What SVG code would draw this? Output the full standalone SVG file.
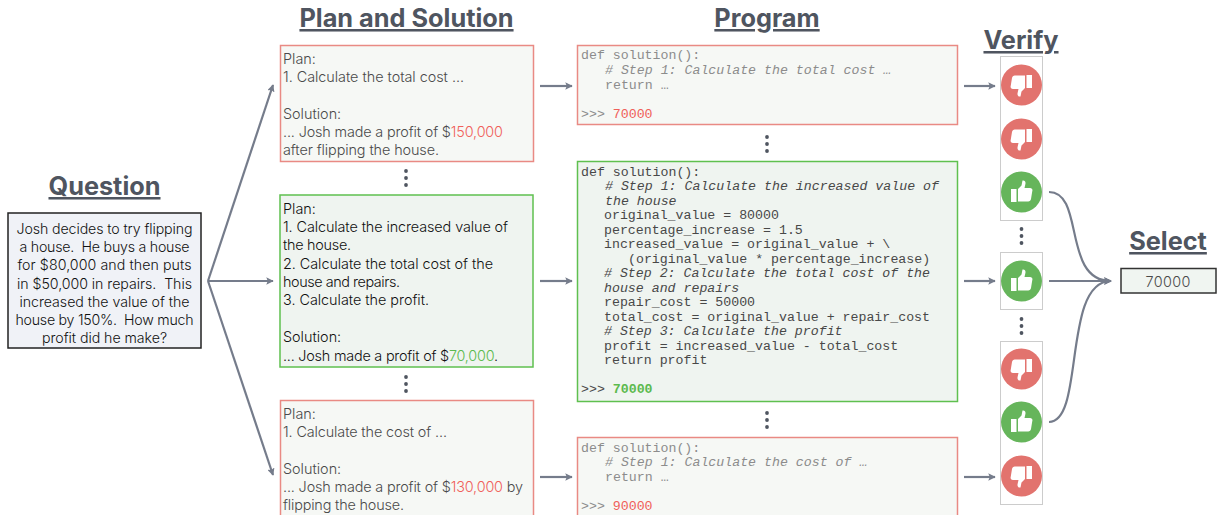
<svg xmlns="http://www.w3.org/2000/svg" width="1217" height="515" viewBox="0 0 1217 515">
<style>
.h{font-family:"Inter","Liberation Sans",sans-serif;font-weight:700;font-size:25.3px;fill:#4f5560;text-anchor:middle;text-decoration:underline}
.t{font-family:"Inter","Liberation Sans",sans-serif;font-weight:300;font-size:14.4px;fill:#4a4a4a}
.td{fill:#111}
.q{font-family:"Inter","Liberation Sans",sans-serif;font-weight:300;font-size:14.2px;fill:#111;text-anchor:middle;white-space:pre}
.m{font-family:"Liberation Mono",monospace;font-size:13.25px;fill:#8c8c8c}
.md{fill:#484848}
.i{font-style:italic}
.box{stroke-width:1.5}
.bad{fill:#f6f8f5;stroke:#e98a84}
.good{fill:#eff4f0;stroke:#5fc04f}
.red{fill:#f0605a}
.grn{fill:#5cba4e}
.con{fill:none;stroke:#757c8b;stroke-width:2.2}
.vb{fill:#fff;stroke:#ccc;stroke-width:1}
.dot{fill:#4f5560}
</style>
<defs>
<marker id="a" viewBox="0 0 10 10" refX="9" refY="5" markerWidth="7.500" markerHeight="7.500" orient="auto" markerUnits="userSpaceOnUse"><path d="M0 0L10 5L0 10L2 5Z" fill="#757c8b"/></marker>
<g id="up"><circle r="20.500" fill="#66b55b"/><path fill="#fff" d="M-10.500-3h5.500v13h-5.500zM-3.500-3l3.500-3.500l1-5c2.500-.5 3.500 1.500 2.800 4l-.8 3.500h5.500c2 0 2.800 1.500 2.300 3l-1.300 8c-.3 1.500-1.300 2.500-2.800 2.500h-10.200z"/></g>
<g id="down"><circle r="20.500" fill="#e2736e"/><path fill="#fff" d="M10.500 3h-5.500v-13h5.500zM3.500 3l-3.500 3.500l-1 5c-2.500.5-3.500-1.500-2.800-4l.8-3.500h-5.500c-2 0-2.800-1.500-2.300-3l1.300-8c.3-1.500 1.300-2.500 2.800-2.500h10.200z"/></g>
<g id="dots"><circle cy="-7" r="1.900" class="dot"/><circle r="1.900" class="dot"/><circle cy="7" r="1.900" class="dot"/></g>
</defs>

<g id="connectors">
<path class="con" d="M208 281L273 85" marker-end="url(#a)"/>
<path class="con" d="M208 281H273" marker-end="url(#a)"/>
<path class="con" d="M208 281L273 475" marker-end="url(#a)"/>
<path class="con" d="M540 86H572" marker-end="url(#a)"/>
<path class="con" d="M540 281H572" marker-end="url(#a)"/>
<path class="con" d="M540 477H572" marker-end="url(#a)"/>
<path class="con" d="M964 86H995" marker-end="url(#a)"/>
<path class="con" d="M964 281H995" marker-end="url(#a)"/>
<path class="con" d="M964 477H995" marker-end="url(#a)"/>
<path class="con" d="M1049 192C1085 192 1062 281 1111 281" marker-end="url(#a)"/>
<path class="con" d="M1049 281H1111" marker-end="url(#a)"/>
<path class="con" d="M1049 422C1085 422 1062 281 1111 281" marker-end="url(#a)"/>
</g>

<g id="question">
<text class="h" x="104.500" y="195">Question</text>
<rect x="8" y="213" width="193" height="135" fill="#f0f2f7" stroke="#222" stroke-width="1.500"/>
<text class="q" x="104.500" y="234" textLength="176">Josh decides to try flipping</text>
<text class="q" x="104.500" y="252" textLength="170">a house.  He buys a house</text>
<text class="q" x="104.500" y="270" textLength="174">for $80,000 and then puts</text>
<text class="q" x="104.500" y="289" textLength="175">in $50,000 in repairs.  This</text>
<text class="q" x="104.500" y="307" textLength="170">increased the value of the</text>
<text class="q" x="104.500" y="325" textLength="178">house by 150%.  How much</text>
<text class="q" x="104.500" y="343" textLength="125">profit did he make?</text>
</g>

<g id="plan-header"><text class="h" x="406.500" y="27">Plan and Solution</text></g>
<g id="program-header"><text class="h" x="767" y="27">Program</text></g>
<g id="verify-header"><text class="h" x="1021" y="49">Verify</text></g>
<g id="select-header"><text class="h" x="1168" y="250">Select</text></g>

<g id="plan-1">
<rect class="box bad" x="280.500" y="45.500" width="253" height="116"/>
<text class="t" x="283" y="64">Plan:</text>
<text class="t" x="283" y="82" textLength="181">1. Calculate the total cost ...</text>
<text class="t" x="283" y="119">Solution:</text>
<text class="t" x="283" y="137" textLength="220">... Josh made a profit of $<tspan class="red">150,000</tspan></text>
<text class="t" x="283" y="155" textLength="156">after flipping the house.</text>
</g>
<g id="dots-plan-1"><use href="#dots" x="406" y="178"/></g>
<g id="plan-2">
<rect class="box good" x="280" y="195" width="253" height="172"/>
<text class="t td" x="283" y="214">Plan:</text>
<text class="t td" x="283" y="232" textLength="225">1. Calculate the increased value of</text>
<text class="t td" x="283" y="250" textLength="68">the house.</text>
<text class="t td" x="283" y="269" textLength="210">2. Calculate the total cost of the</text>
<text class="t td" x="283" y="287" textLength="117">house and repairs.</text>
<text class="t td" x="283" y="305" textLength="146">3. Calculate the profit.</text>
<text class="t td" x="283" y="342">Solution:</text>
<text class="t td" x="283" y="361" textLength="215">... Josh made a profit of $<tspan class="grn">70,000</tspan>.</text>
</g>
<g id="dots-plan-2"><use href="#dots" x="406" y="384"/></g>
<g id="plan-3">
<rect class="box bad" x="280.500" y="400.500" width="253" height="118"/>
<text class="t" x="283" y="419">Plan:</text>
<text class="t" x="283" y="437" textLength="164">1. Calculate the cost of ...</text>
<text class="t" x="283" y="474">Solution:</text>
<text class="t" x="283" y="492" textLength="240">... Josh made a profit of $<tspan class="red">130,000</tspan> by</text>
<text class="t" x="283" y="510" textLength="121">flipping the house.</text>
</g>

<g id="program-1">
<rect class="box bad" x="577.500" y="45.500" width="380" height="79"/>
<text class="m" x="581" y="59">def solution():</text>
<text class="m i" x="605" y="74"># Step 1: Calculate the total cost …</text>
<text class="m" x="605" y="89">return …</text>
<text class="m" x="581" y="118">&gt;&gt;&gt; <tspan class="red">70000</tspan></text>
</g>
<g id="dots-program-1"><use href="#dots" x="767" y="144"/></g>
<g id="program-2">
<rect class="box good" x="577.500" y="161.500" width="380" height="240"/>
<text class="m md" x="581" y="176">def solution():</text>
<text class="m md i" x="605" y="190"># Step 1: Calculate the increased value of</text>
<text class="m md i" x="605" y="205">the house</text>
<text class="m md" x="604" y="219">original_value = 80000</text>
<text class="m md" x="604" y="234">percentage_increase = 1.5</text>
<text class="m md" x="604" y="248">increased_value = original_value + \</text>
<text class="m md" x="628" y="263">(original_value * percentage_increase)</text>
<text class="m md i" x="604" y="277"># Step 2: Calculate the total cost of the</text>
<text class="m md i" x="604" y="292">house and repairs</text>
<text class="m md" x="604" y="306">repair_cost = 50000</text>
<text class="m md" x="604" y="321">total_cost = original_value + repair_cost</text>
<text class="m md i" x="604" y="335"># Step 3: Calculate the profit</text>
<text class="m md" x="604" y="350">profit = increased_value - total_cost</text>
<text class="m md" x="604" y="364">return profit</text>
<text class="m md" x="581" y="393">&gt;&gt;&gt; <tspan class="grn" font-weight="700">70000</tspan></text>
</g>
<g id="dots-program-2"><use href="#dots" x="767" y="420"/></g>
<g id="program-3">
<rect class="box bad" x="577.500" y="437.500" width="380" height="79"/>
<text class="m" x="581" y="452">def solution():</text>
<text class="m i" x="605" y="466"># Step 1: Calculate the cost of …</text>
<text class="m" x="605" y="481">return …</text>
<text class="m" x="581" y="510">&gt;&gt;&gt; <tspan class="red">90000</tspan></text>
</g>

<g id="verify-1">
<rect class="vb" x="1000.500" y="56.500" width="42" height="164"/>
<use href="#down" x="1021.500" y="85"/>
<use href="#down" x="1021.500" y="139"/>
<use href="#up" x="1021.500" y="192"/>
</g>
<g id="dots-verify-1"><use href="#dots" x="1021.500" y="236"/></g>
<g id="verify-2">
<rect class="vb" x="1000.500" y="252.500" width="42" height="57"/>
<use href="#up" x="1021.500" y="281"/>
</g>
<g id="dots-verify-2"><use href="#dots" x="1021.500" y="326"/></g>
<g id="verify-3">
<rect class="vb" x="1000.500" y="341.500" width="42" height="163"/>
<use href="#down" x="1021.500" y="369"/>
<use href="#up" x="1021.500" y="422"/>
<use href="#down" x="1021.500" y="476"/>
</g>

<g id="select">
<rect x="1121" y="268.500" width="95" height="24.500" fill="#f0f5f1" stroke="#333" stroke-width="1.500"/>
<text class="t" x="1168" y="287" text-anchor="middle" textLength="45">70000</text>
</g>
</svg>
